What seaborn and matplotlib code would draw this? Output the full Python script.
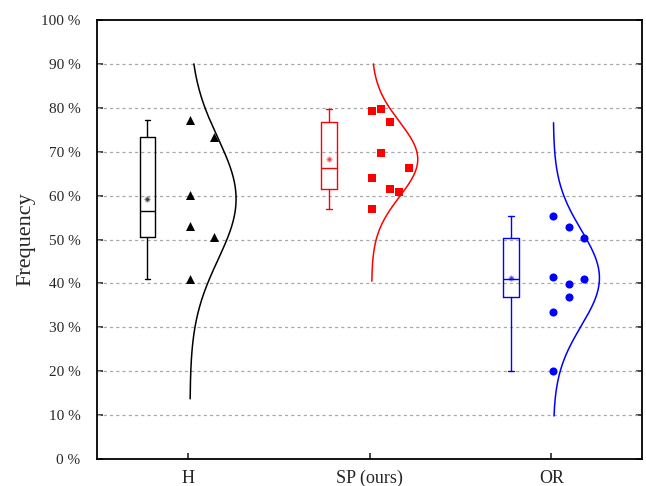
import matplotlib
matplotlib.use('Agg')
import matplotlib.pyplot as plt
import matplotlib.ticker as mticker
import numpy as np
import pandas as pd
import seaborn as sns

# groups and values (percent)
groups = ['H', 'SP (ours)', 'OR']
colors = ['#000000', '#ff0000', '#0000ff']
markers = ['^', 's', 'o']

h_vals = [77.2, 60.1, 53.1, 41.1, 73.3, 50.6]
sp_vals = [79.2, 79.7, 76.7, 69.6, 66.3, 63.9, 61.4, 60.8, 56.9]
or_vals = [55.4, 52.9, 50.3, 41.4, 40.9, 39.9, 36.9, 33.5, 20.0]

# column index of each point in the scatter strip
h_cols = [0, 0, 0, 0, 1, 1]
sp_cols = [0, 1, 2, 1, 4, 0, 2, 3, 0]
or_cols = [0, 1, 2, 0, 2, 1, 1, 0, 0]
col_step = [0.13, 0.051, 0.085]

# span of each normal curve as drawn
curve_lo = [13.7, 40.5, 9.8]
curve_hi = [90.0, 90.0, 76.6]

all_vals = [h_vals, sp_vals, or_vals]
all_cols = [h_cols, sp_cols, or_cols]


def tukey_stats(v):
    v = np.sort(np.asarray(v, dtype=float))
    n = len(v)
    half = (n + 1) // 2
    return dict(med=np.median(v), q1=np.median(v[:half]), q3=np.median(v[n - half:]),
                whislo=v.min(), whishi=v.max(), mean=v.mean(), fliers=[])


sns.set_style('ticks')
plt.rcParams['font.family'] = ['Liberation Serif', 'DejaVu Serif']

fig = plt.figure(figsize=(6.46, 4.86), dpi=100)
ax = fig.add_axes([0.1506, 0.0556, 0.8437, 0.9032])

rows = []
for i, (vals, cols) in enumerate(zip(all_vals, all_cols)):
    for v, c in zip(vals, cols):
        rows.append({'group': groups[i], 'x': i + 1 + 0.01 + c * col_step[i], 'y': v})
df = pd.DataFrame(rows)

for i, g in enumerate(groups):
    sub = df[df['group'] == g]
    sns.scatterplot(data=sub, x='x', y='y', color=colors[i], marker=markers[i],
                    s=[42, 26, 34][i], edgecolor=colors[i], linewidth=0, ax=ax, zorder=4)

    # box (Tukey hinges, whiskers to min/max)
    st = tukey_stats(all_vals[i])
    pos = i + 1 - 0.224
    lp = dict(color=colors[i], linewidth=1.0)
    ax.bxp([st], positions=[pos], widths=0.086, showmeans=False, showfliers=False,
           boxprops=lp, whiskerprops=lp, capprops=lp, medianprops=lp,
           capwidths=0.03, manage_ticks=False, zorder=3)
    ax.plot(pos, st['mean'], marker='x', ms=3.5, color=colors[i], alpha=0.5, mew=1, zorder=4)
    ax.plot(pos, st['mean'], marker='+', ms=4.5, color=colors[i], alpha=0.5, mew=1, zorder=4)

    # normal curve
    m = np.mean(all_vals[i])
    sd = np.std(all_vals[i], ddof=1)
    yy = np.linspace(curve_lo[i], curve_hi[i], 300)
    xx = i + 1 + 0.01 + 0.254 * np.exp(-0.5 * ((yy - m) / sd) ** 2)
    ax.plot(xx, yy, color=colors[i], linewidth=1.1, zorder=3)

ax.set_xlim(0.5, 3.5)
ax.set_ylim(0, 100)
ax.set_xticks([1, 2, 3])
ax.set_xticklabels(groups)
ax.set_yticks(np.arange(0, 101, 10))
ax.yaxis.set_major_formatter(mticker.FuncFormatter(lambda v, p: f'{int(v)} %'))
ax.set_xlabel('')
ax.set_ylabel('Frequency', fontsize=16, labelpad=4)

for y in range(10, 100, 10):
    ax.axhline(y, color='#a8a8a8', linewidth=0.9, linestyle=(0, (2.5, 2.5)), zorder=1)

for s in ax.spines.values():
    s.set_visible(True)
    s.set_linewidth(1.3)
    s.set_color('black')

ax.tick_params(axis='y', direction='in', length=4, width=1.2, labelsize=11, pad=12,
               right=True, left=True)
ax.tick_params(axis='x', direction='in', length=4, width=1.2, labelsize=13, pad=17,
               top=False)
for lab in ax.get_xticklabels():
    lab.set_verticalalignment('baseline')

fig.savefig('out.png', dpi=100)
